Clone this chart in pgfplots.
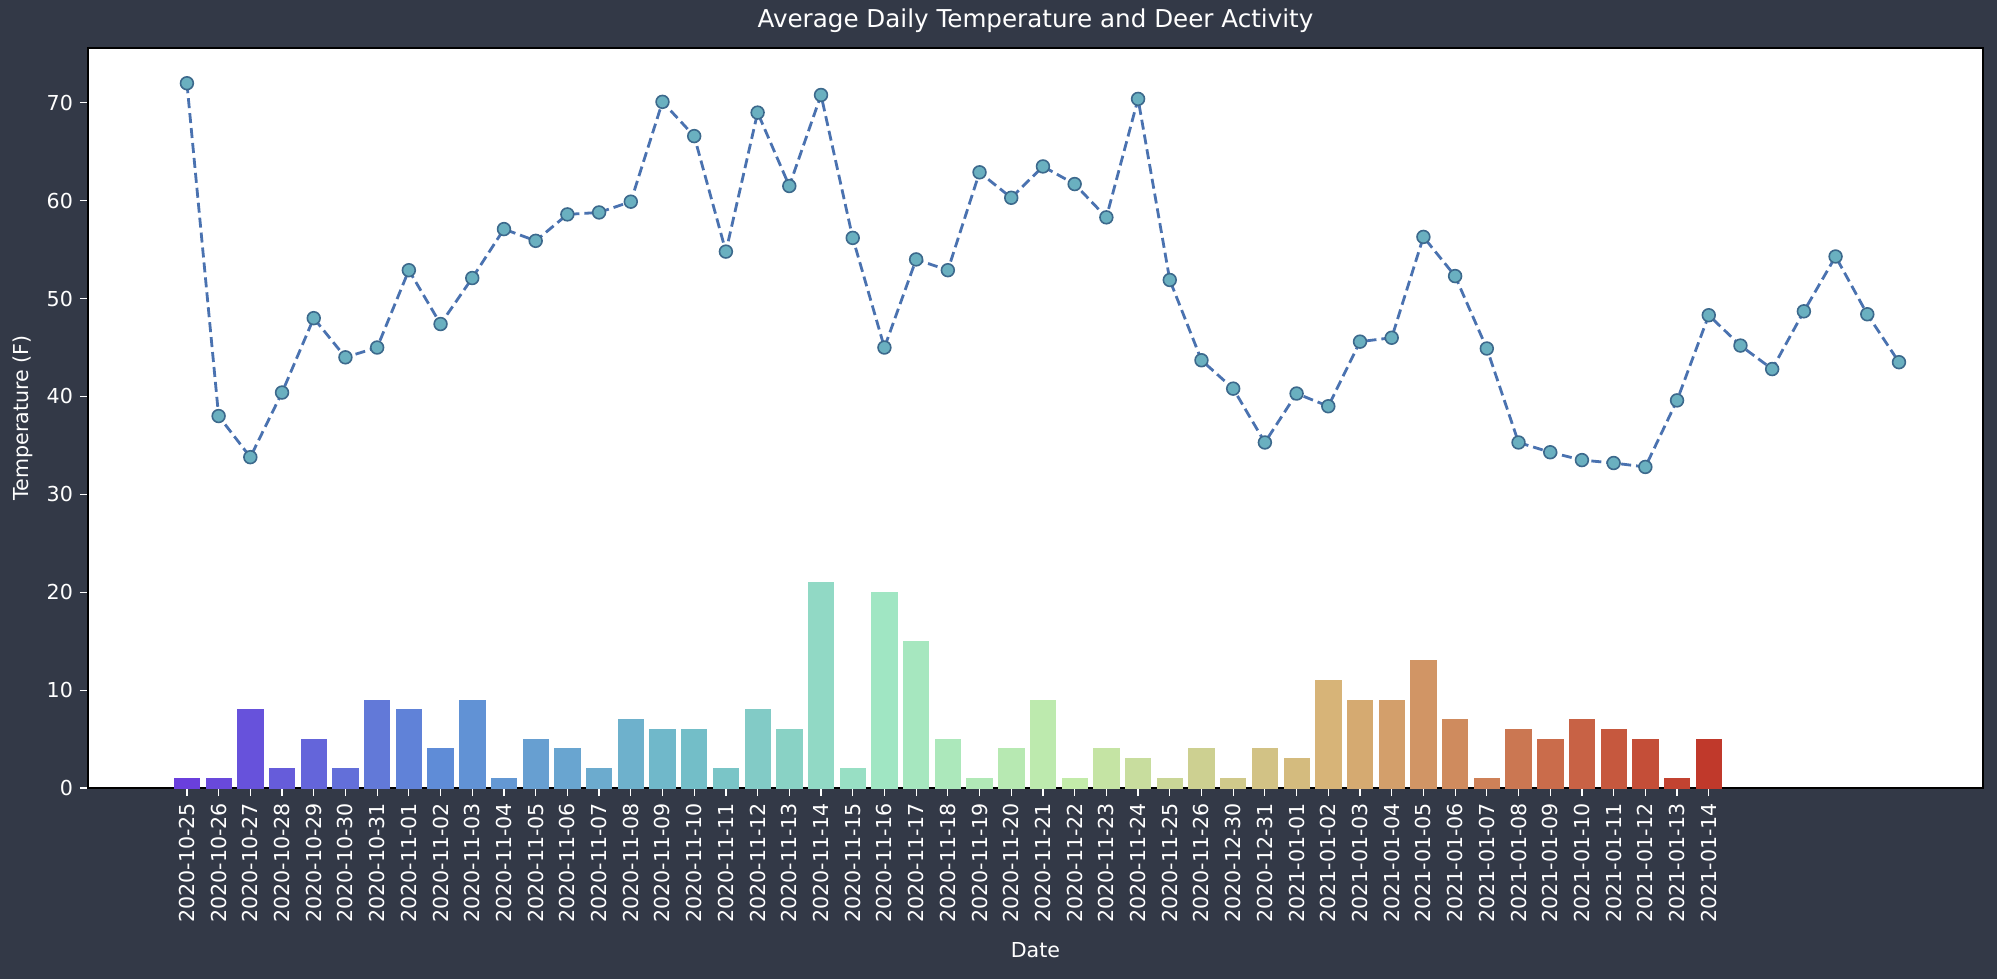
\documentclass[border=0pt]{standalone}
\usepackage{pgfplots}
\pgfplotsset{compat=1.18}
\usepackage{fontspec}
\setmainfont{DejaVu Sans}
\usetikzlibrary{backgrounds}
\definecolor{bg}{RGB}{51,57,71}
\definecolor{ln}{RGB}{74,114,176}
\definecolor{mk}{RGB}{106,176,192}
\definecolor{mkd}{RGB}{60,105,140}
\begin{document}
\begin{tikzpicture}[x=1pt,y=1pt]
\useasboundingbox (-44,-95.5) rectangle (954.5,394);
\begin{axis}[at={(0,0)},anchor=south west,scale only axis,
 width=947.5pt,height=370pt,
 axis background/.style={fill=white},
 xmin=-3.12,xmax=56.65,ymin=0,ymax=75.6,
 xtick={0,...,48},
 xticklabels={2020-10-25,2020-10-26,2020-10-27,2020-10-28,2020-10-29,2020-10-30,2020-10-31,2020-11-01,2020-11-02,2020-11-03,2020-11-04,2020-11-05,2020-11-06,2020-11-07,2020-11-08,2020-11-09,2020-11-10,2020-11-11,2020-11-12,2020-11-13,2020-11-14,2020-11-15,2020-11-16,2020-11-17,2020-11-18,2020-11-19,2020-11-20,2020-11-21,2020-11-22,2020-11-23,2020-11-24,2020-11-25,2020-11-26,2020-12-30,2020-12-31,2021-01-01,2021-01-02,2021-01-03,2021-01-04,2021-01-05,2021-01-06,2021-01-07,2021-01-08,2021-01-09,2021-01-10,2021-01-11,2021-01-12,2021-01-13,2021-01-14},
 xticklabel style={rotate=90,anchor=east,font=\fontsize{10.3}{11}\selectfont,text=white},
 ytick={0,10,...,70},
 yticklabel style={text=white,font=\fontsize{10.3}{11}\selectfont},
 /pgf/number format/assume math mode=true,
 tick align=outside, major tick length=4pt,
 tick style={white,line width=0.6pt}, xtick pos=bottom, ytick pos=left,
 axis line style={black,line width=0.6pt},
 xlabel={Date}, ylabel={Temperature (F)},
 xlabel style={yshift=-3pt},
 label style={text=white,font=\fontsize{10.3}{11}\selectfont},
 title={Average Daily Temperature and Deer Activity},
 title style={text=white,font=\fontsize{12.3}{13}\selectfont,yshift=-2pt},
 colormap={deer}{rgb255(0)=(106,63,220) rgb255(8)=(95,140,215) rgb255(16)=(115,190,200) rgb255(22)=(160,230,195) rgb255(28)=(195,235,170) rgb255(36)=(215,180,120) rgb255(48)=(192,57,43)},
 point meta min=0, point meta max=48,
]
\addplot[scatter, only marks, mark=none, point meta=x,
 visualization depends on={y \as \yv},
 scatter/@pre marker code/.code={\pgfplotscolormapdefinemappedcolor{\pgfplotspointmetatransformed}\fill[mapped color] (axis direction cs:-0.4,-\yv) rectangle (axis direction cs:0.4,0);},
 scatter/@post marker code/.code={}]
 table[x index=0,y index=1]{
0 1
1 1
2 8
3 2
4 5
5 2
6 9
7 8
8 4
9 9
10 1
11 5
12 4
13 2
14 7
15 6
16 6
17 2
18 8
19 6
20 21
21 2
22 20
23 15
24 5
25 1
26 4
27 9
28 1
29 4
30 3
31 1
32 4
33 1
34 4
35 3
36 11
37 9
38 9
39 13
40 7
41 1
42 6
43 5
44 7
45 6
46 5
47 1
48 5
};
\addplot[ln, dash pattern=on 5pt off 2.5pt, line width=1.4pt, mark=*, mark size=3.2pt,
 mark options={solid, fill=mk, draw=mkd, line width=0.8pt}]
 table{
0 72
1 38
2 33.8
3 40.4
4 48
5 44
6 45
7 52.9
8 47.4
9 52.1
10 57.1
11 55.9
12 58.6
13 58.8
14 59.9
15 70.1
16 66.6
17 54.8
18 69
19 61.5
20 70.8
21 56.2
22 45
23 54
24 52.9
25 62.9
26 60.3
27 63.5
28 61.7
29 58.3
30 70.4
31 51.9
32 43.7
33 40.8
34 35.3
35 40.3
36 39
37 45.6
38 46
39 56.3
40 52.3
41 44.9
42 35.3
43 34.3
44 33.5
45 33.2
46 32.8
47 39.6
48 48.3
49 45.2
50 42.8
51 48.7
52 54.3
53 48.4
54 43.5
};
\end{axis}
\begin{scope}[on background layer]
\fill[bg] (-44,-95.5) rectangle (954.5,394);
\end{scope}
\end{tikzpicture}
\end{document}
